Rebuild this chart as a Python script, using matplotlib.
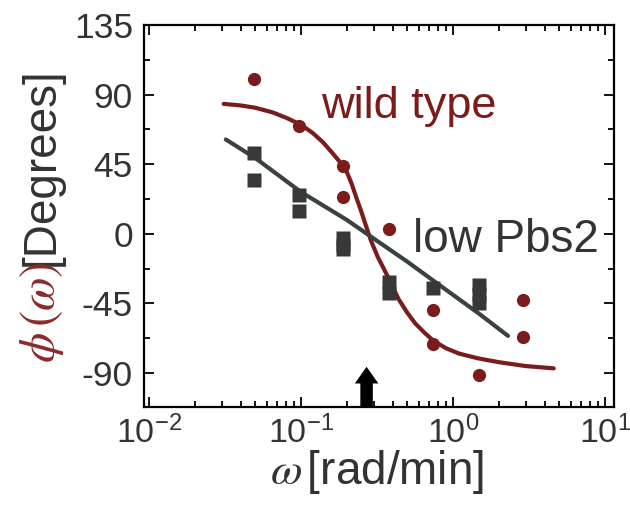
import numpy as np
import matplotlib
matplotlib.use("Agg")
import matplotlib.pyplot as plt
from matplotlib.ticker import FixedLocator, LogLocator

plt.rcParams["font.family"] = ["Liberation Sans", "DejaVu Sans"]
plt.rcParams["mathtext.fontset"] = "stix"
plt.rcParams["axes.unicode_minus"] = False

# Measured phase (degrees) vs. frequency (rad/min)
wt_x = [0.049, 0.097, 0.19, 0.19, 0.38, 0.74, 0.74, 1.48, 2.9, 2.9]
wt_y = [100, 70, 44, 24, 3, -49, -71, -91, -43, -67]

lp_x = [0.049, 0.049, 0.097, 0.097, 0.19, 0.19, 0.19, 0.38, 0.38, 0.74,
        1.48, 1.48, 1.48]
lp_y = [52, 35, 25, 15, -3, -7, -10, -31, -38, -35, -33, -39, -45]

# Fitted curves
wt_fit_x = [0.031, 0.04, 0.05, 0.065, 0.08, 0.1, 0.12, 0.14, 0.16, 0.18,
            0.2, 0.215, 0.232, 0.25, 0.27, 0.29, 0.32, 0.365, 0.4, 0.437,
            0.5, 0.565, 0.65, 0.74, 0.9, 1.1, 1.46, 2.0, 3.0, 4.6]
wt_fit_y = [84, 83, 81.5, 78.5, 75, 70.5, 65, 59, 52.5, 46.5,
            40, 32.5, 23, 14, 4, -5, -15, -26, -34, -42,
            -51, -58, -64, -69, -74, -77.5, -80.5, -83, -85.5, -87]

lp_fit_x = [0.032, 0.05, 0.1, 0.2, 0.3, 0.5, 0.76, 1.5, 2.3]
lp_fit_y = [61, 49, 27, 9, -3, -18, -31, -52, -66]

arrow_x = 0.27

yticks = [-90, -45, 0, 45, 90, 135]

red = "#7a1c1c"
dark = "#3a4141"
txt = "#333333"

fig = plt.figure(figsize=(6.3, 5.05), dpi=100)
ax = fig.add_axes([0.2286, 0.194, 0.746, 0.7565])

ax.plot(wt_fit_x, wt_fit_y, color=red, lw=3, solid_capstyle="round", zorder=3)
ax.plot(lp_fit_x, lp_fit_y, color=dark, lw=3, solid_capstyle="round", zorder=3)
ax.plot(wt_x, wt_y, "o", color=red, ms=9.5, mec="none", zorder=4)
ax.plot(lp_x, lp_y, "s", color="#383838", ms=9.5, mec="none", zorder=4)

ax.set_xscale("log")
ax.set_xlim(0.00927, 11.46)
ax.set_ylim(-112, 135)

ax.yaxis.set_major_locator(FixedLocator(yticks))
ax.yaxis.set_minor_locator(FixedLocator(np.arange(-112.5, 136, 22.5)))
ax.xaxis.set_major_locator(LogLocator(base=10, numticks=10))
ax.xaxis.set_minor_locator(LogLocator(base=10, subs=np.arange(2, 10), numticks=10))

ax.tick_params(which="both", direction="in", top=True, right=True,
               colors="black", labelcolor=txt, width=1.3)
ax.tick_params(which="major", length=7)
ax.tick_params(which="minor", length=4)
ax.tick_params(axis="y", labelsize=25.5, pad=8)
ax.tick_params(axis="x", labelsize=24.5, pad=6)
for sp in ax.spines.values():
    sp.set_linewidth(1.6)

# arrow marking the crossover frequency
ax.annotate("", xy=(arrow_x, -86), xytext=(arrow_x, -112),
            arrowprops=dict(width=9, headwidth=17, headlength=12,
                            facecolor="black", edgecolor="none", shrink=0))

ax.text(0.135, 75, "wild type", color=red, fontsize=32.5, va="baseline")
ax.text(0.548, -12, "low Pbs2", color=txt, fontsize=33, va="baseline")

fig.text(0.067, 1 - 67 / 505, "[Degrees]", rotation=90, fontsize=33,
         color=txt, ha="center", va="top")
fig.text(0.067, 1 - 363 / 505, r"$\phi\,(\omega)$", rotation=90, fontsize=35,
         color="#8a2b2b", ha="center", va="bottom")
fig.text(0.599, 0.065, r"$\omega\,$[rad/min]", fontsize=33, color=txt,
         ha="center", va="center")

fig.savefig("out.png", dpi=100, facecolor="white")
